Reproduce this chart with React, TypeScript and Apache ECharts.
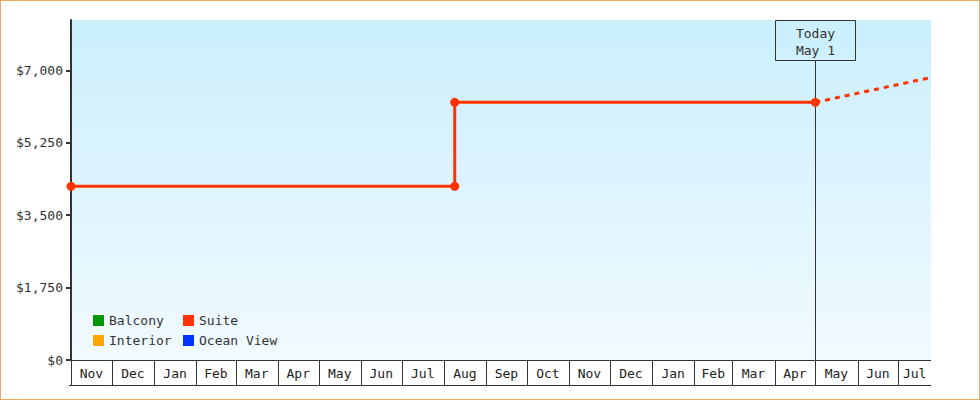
import * as echarts from 'echarts';
import React, { useEffect, useRef } from 'react';

const FONT = '"DejaVu Sans Mono", monospace';

// month cells along the bottom (start of each month, last entry closes the final cell)
const monthLabels = [
  'Nov', 'Dec', 'Jan', 'Feb', 'Mar', 'Apr', 'May', 'Jun', 'Jul', 'Aug', 'Sep',
  'Oct', 'Nov', 'Dec', 'Jan', 'Feb', 'Mar', 'Apr', 'May', 'Jun', 'Jul',
];
const monthStarts = [
  '2023-11-01', '2023-12-01', '2024-01-01', '2024-02-01', '2024-03-01', '2024-04-01',
  '2024-05-01', '2024-06-01', '2024-07-01', '2024-08-01', '2024-09-01', '2024-10-01',
  '2024-11-01', '2024-12-01', '2025-01-01', '2025-02-01', '2025-03-01', '2025-04-01',
  '2025-05-01', '2025-06-01', '2025-07-01', '2025-08-01',
];

const xStart = '2023-11-01';
const xEnd = '2025-07-25';

// suite price history
const suiteDates = ['2023-11-01', '2024-08-09', '2024-08-09', '2025-05-01'];
const suiteValues = [4200, 4200, 6230, 6230];

// projection after today
const projDates = ['2025-05-01', '2025-07-25'];
const projValues = [6230, 6830];

const todayDate = '2025-05-01';
const todayLabel = ['Today', 'May 1'];

const yTicks = [0, 1750, 3500, 5250, 7000];
const yMax = 8220;

const legendLeftCol = ['Balcony', 'Interior'];
const legendRightCol = ['Suite', 'Ocean View'];
const cabinColors: Record<string, string> = {
  Balcony: '#009900',
  Interior: '#ffa500',
  Suite: '#ff3300',
  'Ocean View': '#0033ff',
};

const CHART_H = 400;
const CELL_H = 25;
const BOX_W = 80;
const BOX_H = 40;

const t = (s: string) => new Date(s + 'T00:00:00').getTime();

const App: React.FC = () => {
  const chartRef = useRef<HTMLDivElement>(null);

  useEffect(() => {
    document.body.style.margin = '0';
    if (!chartRef.current) return;
    const chart = echarts.init(chartRef.current, undefined, { renderer: 'svg' });

    const cellData = monthLabels.map((_, i) => [t(monthStarts[i]), 0, t(monthStarts[i + 1])]);

    const legendBase = {
      orient: 'vertical' as const,
      top: 314,
      padding: 0,
      icon: 'rect',
      itemWidth: 11,
      itemHeight: 11,
      itemGap: 7,
      itemTextGap: 3,
      selectedMode: false,
      textStyle: { color: '#333', fontSize: 13, fontFamily: FONT },
    };

    const placeholder = (name: string) => ({
      name,
      type: 'line' as const,
      data: [],
      itemStyle: { color: cabinColors[name] },
      lineStyle: { color: cabinColors[name] },
    });

    const option: any = {
      animation: false,
      grid: {
        left: 71,
        right: 49,
        top: 20,
        bottom: 40,
        show: true,
        borderWidth: 0,
        backgroundColor: new echarts.graphic.LinearGradient(0, 0, 0, 1, [
          { offset: 0, color: '#cbeffd' },
          { offset: 1, color: '#f1faff' },
        ]),
      },
      legend: [
        { ...legendBase, left: 93, data: legendLeftCol },
        { ...legendBase, left: 183, data: legendRightCol },
      ],
      xAxis: {
        type: 'time',
        min: t(xStart),
        max: t(xEnd),
        axisLine: { show: false },
        axisTick: { show: false },
        axisLabel: { show: false },
        splitLine: { show: false },
      },
      yAxis: {
        type: 'value',
        min: 0,
        max: yMax,
        axisLine: { show: true, lineStyle: { color: '#333', width: 2 } },
        axisTick: { show: true, length: 5, lineStyle: { color: '#333', width: 2 }, customValues: yTicks },
        axisLabel: {
          customValues: yTicks,
          margin: 8,
          color: '#333',
          fontSize: 13,
          fontFamily: FONT,
          formatter: (v: number) => '$' + v.toLocaleString('en-US'),
        },
        splitLine: { show: false },
      },
      series: [
        placeholder('Balcony'),
        placeholder('Interior'),
        {
          name: 'Suite',
          type: 'line',
          data: suiteDates.map((d, i) => [t(d), suiteValues[i]]),
          symbol: 'circle',
          symbolSize: 9,
          showSymbol: true,
          itemStyle: { color: cabinColors.Suite },
          lineStyle: { color: cabinColors.Suite, width: 3 },
          z: 5,
        },
        {
          name: 'Suite',
          type: 'line',
          data: projDates.map((d, i) => [t(d), projValues[i]]),
          showSymbol: false,
          itemStyle: { color: cabinColors.Suite },
          lineStyle: { color: cabinColors.Suite, width: 3, type: [5, 5] },
          z: 4,
        },
        placeholder('Ocean View'),
        {
          // "Today" marker: box hanging from the top of the plot, line down to the axis
          name: 'today',
          type: 'custom',
          silent: true,
          clip: false,
          z: 3,
          data: [[t(todayDate), 0]],
          renderItem: (params: any, api: any) => {
            const cs = params.coordSys;
            const x = Math.round(api.coord([api.value(0), 0])[0]) + 0.5;
            const top = Math.round(cs.y) + 0.5;
            const bottom = cs.y + cs.height;
            const style = { stroke: '#333', lineWidth: 1, fill: 'none' };
            return {
              type: 'group',
              children: [
                { type: 'line', shape: { x1: x, y1: top + BOX_H, x2: x, y2: bottom }, style },
                {
                  type: 'rect',
                  shape: { x: x - BOX_W / 2, y: top, width: BOX_W, height: BOX_H },
                  style,
                },
                {
                  type: 'text',
                  x: x,
                  y: top + BOX_H / 2 + 1,
                  style: {
                    text: todayLabel.join('\n'),
                    fill: '#333',
                    font: `13px ${FONT}`,
                    lineHeight: 17,
                    align: 'center',
                    verticalAlign: 'middle',
                  },
                },
              ],
            };
          },
        },
        {
          name: 'months',
          type: 'custom',
          silent: true,
          clip: false,
          encode: { x: [0, 2], y: 1 },
          data: cellData,
          renderItem: (params: any, api: any) => {
            const cs = params.coordSys;
            const right = cs.x + cs.width;
            const top = cs.y + cs.height;
            const x1 = api.coord([api.value(0), 0])[0];
            const x2 = Math.min(api.coord([api.value(2), 0])[0], right);
            const xa = Math.round(x1) + 0.5;
            const yTop = Math.round(top) + 0.5;
            const yBot = Math.round(top + CELL_H) + 0.5;
            const style = { stroke: '#333', lineWidth: 1 };
            return {
              type: 'group',
              children: [
                { type: 'line', shape: { x1: xa, y1: yTop, x2: xa, y2: yBot }, style },
                { type: 'line', shape: { x1: x1, y1: yTop, x2: x2, y2: yTop }, style },
                { type: 'line', shape: { x1: x1 - (params.dataIndex === 0 ? 2 : 0), y1: yBot, x2: x2, y2: yBot }, style },
                {
                  type: 'text',
                  x: (x1 + x2) / 2,
                  y: top + CELL_H / 2 + 1,
                  style: {
                    text: monthLabels[params.dataIndex],
                    fill: '#222',
                    font: `13px ${FONT}`,
                    align: 'center',
                    verticalAlign: 'middle',
                  },
                },
              ],
            };
          },
        },
      ],
    };

    chart.setOption(option);

    return () => {
      chart.dispose();
    };
  }, []);

  return (
    <div style={{ position: 'relative', width: 980, height: CHART_H }}>
      <div ref={chartRef} style={{ width: 980, height: CHART_H }} />
      <div
        style={{
          position: 'absolute',
          inset: 0,
          border: '1px solid #e8a862',
          boxSizing: 'border-box',
          pointerEvents: 'none',
        }}
      />
    </div>
  );
};

export default App;
